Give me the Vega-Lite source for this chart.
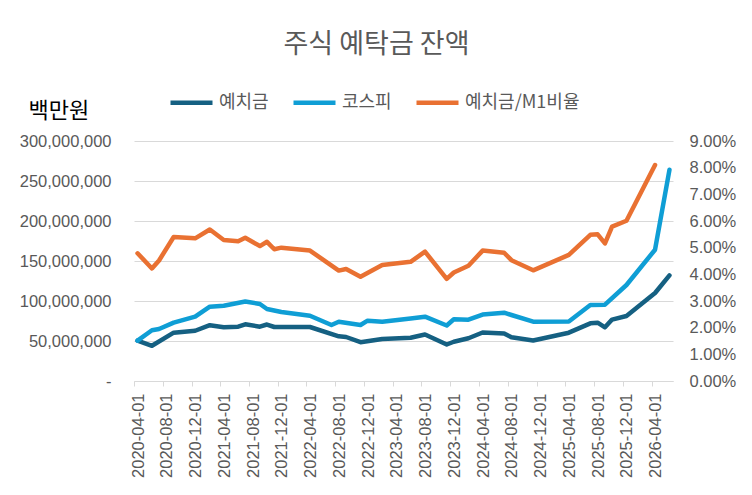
{
  "$schema": "https://vega.github.io/schema/vega-lite/v6.json",
  "background": "#ffffff",
  "autosize": {"type": "none"},
  "padding": {"left": 134, "top": 141, "right": 79, "bottom": 114},
  "width": 539,
  "height": 240,
  "title": {
    "text": "주식 예탁금 잔액",
    "font": "Noto Sans CJK KR",
    "fontSize": 27,
    "fontWeight": "normal",
    "color": "#595959",
    "anchor": "middle",
    "frame": "group",
    "dx": -27,
    "offset": 20
  },
  "config": {
    "view": {"stroke": null},
    "axis": {
      "labelFont": "Liberation Sans",
      "labelFontSize": 16.5,
      "labelColor": "#595959",
      "gridColor": "#d9d9d9",
      "domainColor": "#d9d9d9",
      "tickColor": "#d9d9d9"
    },
    "legend": {
      "labelFont": "Noto Sans CJK KR",
      "labelFontSize": 18,
      "labelColor": "#595959"
    }
  },
  "data": {
    "values": [
      {"date": "2020-04-16", "series": "예치금", "value": 50400000},
      {"date": "2020-06-16", "series": "예치금", "value": 44000000},
      {"date": "2020-09-16", "series": "예치금", "value": 60400000},
      {"date": "2020-12-16", "series": "예치금", "value": 62800000},
      {"date": "2021-02-16", "series": "예치금", "value": 69800000},
      {"date": "2021-04-16", "series": "예치금", "value": 67100000},
      {"date": "2021-06-16", "series": "예치금", "value": 67900000},
      {"date": "2021-07-16", "series": "예치금", "value": 70900000},
      {"date": "2021-09-16", "series": "예치금", "value": 67900000},
      {"date": "2021-10-16", "series": "예치금", "value": 70600000},
      {"date": "2021-11-16", "series": "예치금", "value": 67500000},
      {"date": "2022-04-16", "series": "예치금", "value": 67500000},
      {"date": "2022-08-16", "series": "예치금", "value": 55900000},
      {"date": "2022-09-16", "series": "예치금", "value": 55000000},
      {"date": "2022-11-16", "series": "예치금", "value": 48500000},
      {"date": "2023-02-16", "series": "예치금", "value": 52500000},
      {"date": "2023-06-16", "series": "예치금", "value": 54000000},
      {"date": "2023-08-16", "series": "예치금", "value": 58100000},
      {"date": "2023-11-16", "series": "예치금", "value": 45600000},
      {"date": "2023-12-16", "series": "예치금", "value": 49100000},
      {"date": "2024-02-16", "series": "예치금", "value": 53400000},
      {"date": "2024-04-16", "series": "예치금", "value": 60600000},
      {"date": "2024-07-16", "series": "예치금", "value": 59400000},
      {"date": "2024-08-16", "series": "예치금", "value": 54600000},
      {"date": "2024-11-16", "series": "예치금", "value": 50600000},
      {"date": "2025-04-16", "series": "예치금", "value": 60400000},
      {"date": "2025-07-16", "series": "예치금", "value": 72100000},
      {"date": "2025-08-16", "series": "예치금", "value": 72900000},
      {"date": "2025-09-16", "series": "예치금", "value": 67100000},
      {"date": "2025-10-16", "series": "예치금", "value": 76800000},
      {"date": "2025-12-16", "series": "예치금", "value": 81300000},
      {"date": "2026-04-16", "series": "예치금", "value": 110000000},
      {"date": "2026-06-16", "series": "예치금", "value": 132000000},
      {"date": "2020-04-16", "series": "코스피", "value": 50400000},
      {"date": "2020-06-16", "series": "코스피", "value": 63400000},
      {"date": "2020-07-16", "series": "코스피", "value": 65000000},
      {"date": "2020-09-16", "series": "코스피", "value": 72900000},
      {"date": "2020-12-16", "series": "코스피", "value": 80400000},
      {"date": "2021-02-16", "series": "코스피", "value": 92900000},
      {"date": "2021-04-16", "series": "코스피", "value": 94100000},
      {"date": "2021-07-16", "series": "코스피", "value": 99400000},
      {"date": "2021-09-16", "series": "코스피", "value": 96300000},
      {"date": "2021-10-16", "series": "코스피", "value": 90000000},
      {"date": "2021-12-16", "series": "코스피", "value": 86300000},
      {"date": "2022-04-16", "series": "코스피", "value": 81600000},
      {"date": "2022-07-16", "series": "코스피", "value": 70000000},
      {"date": "2022-08-16", "series": "코스피", "value": 74100000},
      {"date": "2022-11-16", "series": "코스피", "value": 70000000},
      {"date": "2022-12-16", "series": "코스피", "value": 75400000},
      {"date": "2023-02-16", "series": "코스피", "value": 74100000},
      {"date": "2023-06-16", "series": "코스피", "value": 78100000},
      {"date": "2023-08-16", "series": "코스피", "value": 80400000},
      {"date": "2023-11-16", "series": "코스피", "value": 69400000},
      {"date": "2023-12-16", "series": "코스피", "value": 77100000},
      {"date": "2024-02-16", "series": "코스피", "value": 76600000},
      {"date": "2024-04-16", "series": "코스피", "value": 83100000},
      {"date": "2024-07-16", "series": "코스피", "value": 85400000},
      {"date": "2024-08-16", "series": "코스피", "value": 82500000},
      {"date": "2024-11-16", "series": "코스피", "value": 74100000},
      {"date": "2025-04-16", "series": "코스피", "value": 74400000},
      {"date": "2025-07-16", "series": "코스피", "value": 95000000},
      {"date": "2025-09-16", "series": "코스피", "value": 95400000},
      {"date": "2025-12-16", "series": "코스피", "value": 120000000},
      {"date": "2026-04-16", "series": "코스피", "value": 164100000},
      {"date": "2026-06-16", "series": "코스피", "value": 264000000},
      {"date": "2020-04-16", "series": "예치금/M1비율", "value": 0.0479},
      {"date": "2020-06-16", "series": "예치금/M1비율", "value": 0.0422},
      {"date": "2020-07-16", "series": "예치금/M1비율", "value": 0.0452},
      {"date": "2020-09-16", "series": "예치금/M1비율", "value": 0.054},
      {"date": "2020-12-16", "series": "예치금/M1비율", "value": 0.0535},
      {"date": "2021-02-16", "series": "예치금/M1비율", "value": 0.0568},
      {"date": "2021-04-16", "series": "예치금/M1비율", "value": 0.0529},
      {"date": "2021-06-16", "series": "예치금/M1비율", "value": 0.0524},
      {"date": "2021-07-16", "series": "예치금/M1비율", "value": 0.0537},
      {"date": "2021-09-16", "series": "예치금/M1비율", "value": 0.0506},
      {"date": "2021-10-16", "series": "예치금/M1비율", "value": 0.0522},
      {"date": "2021-11-16", "series": "예치금/M1비율", "value": 0.0494},
      {"date": "2021-12-16", "series": "예치금/M1비율", "value": 0.05},
      {"date": "2022-04-16", "series": "예치금/M1비율", "value": 0.0489},
      {"date": "2022-08-16", "series": "예치금/M1비율", "value": 0.0414},
      {"date": "2022-09-16", "series": "예치금/M1비율", "value": 0.042},
      {"date": "2022-11-16", "series": "예치금/M1비율", "value": 0.0391},
      {"date": "2023-02-16", "series": "예치금/M1비율", "value": 0.0435},
      {"date": "2023-06-16", "series": "예치금/M1비율", "value": 0.0447},
      {"date": "2023-08-16", "series": "예치금/M1비율", "value": 0.0485},
      {"date": "2023-11-16", "series": "예치금/M1비율", "value": 0.0383},
      {"date": "2023-12-16", "series": "예치금/M1비율", "value": 0.0407},
      {"date": "2024-02-16", "series": "예치금/M1비율", "value": 0.0432},
      {"date": "2024-04-16", "series": "예치금/M1비율", "value": 0.0489},
      {"date": "2024-07-16", "series": "예치금/M1비율", "value": 0.0481},
      {"date": "2024-08-16", "series": "예치금/M1비율", "value": 0.0453},
      {"date": "2024-11-16", "series": "예치금/M1비율", "value": 0.0415},
      {"date": "2025-04-16", "series": "예치금/M1비율", "value": 0.0473},
      {"date": "2025-07-16", "series": "예치금/M1비율", "value": 0.0548},
      {"date": "2025-08-16", "series": "예치금/M1비율", "value": 0.055},
      {"date": "2025-09-16", "series": "예치금/M1비율", "value": 0.0516},
      {"date": "2025-10-16", "series": "예치금/M1비율", "value": 0.0579},
      {"date": "2025-12-16", "series": "예치금/M1비율", "value": 0.0601},
      {"date": "2026-04-16", "series": "예치금/M1비율", "value": 0.081}
    ]
  },
  "encoding": {
    "x": {
      "field": "date",
      "type": "temporal",
      "title": null,
      "scale": {
        "type": "utc",
        "domain": [
          {"year": 2020, "month": 4, "date": 1, "utc": true},
          {"year": 2026, "month": 7, "date": 1, "utc": true}
        ]
      },
      "axis": {
        "values": [
          {"year": 2020, "month": 4, "date": 1, "utc": true},
          {"year": 2020, "month": 8, "date": 1, "utc": true},
          {"year": 2020, "month": 12, "date": 1, "utc": true},
          {"year": 2021, "month": 4, "date": 1, "utc": true},
          {"year": 2021, "month": 8, "date": 1, "utc": true},
          {"year": 2021, "month": 12, "date": 1, "utc": true},
          {"year": 2022, "month": 4, "date": 1, "utc": true},
          {"year": 2022, "month": 8, "date": 1, "utc": true},
          {"year": 2022, "month": 12, "date": 1, "utc": true},
          {"year": 2023, "month": 4, "date": 1, "utc": true},
          {"year": 2023, "month": 8, "date": 1, "utc": true},
          {"year": 2023, "month": 12, "date": 1, "utc": true},
          {"year": 2024, "month": 4, "date": 1, "utc": true},
          {"year": 2024, "month": 8, "date": 1, "utc": true},
          {"year": 2024, "month": 12, "date": 1, "utc": true},
          {"year": 2025, "month": 4, "date": 1, "utc": true},
          {"year": 2025, "month": 8, "date": 1, "utc": true},
          {"year": 2025, "month": 12, "date": 1, "utc": true},
          {"year": 2026, "month": 4, "date": 1, "utc": true}
        ],
        "labelExpr": "utcFormat(datum.value, '%Y-%m-%d')",
        "labelAngle": -90,
        "labelOffset": 4,
        "labelPadding": 7,
        "tickSize": 5,
        "grid": false,
        "labelOverlap": false
      }
    },
    "color": {
      "field": "series",
      "type": "nominal",
      "scale": {
        "domain": ["예치금", "코스피", "예치금/M1비율"],
        "range": ["#156082", "#0F9ED5", "#E97132"]
      },
      "legend": {
        "title": null,
        "orient": "none",
        "direction": "horizontal",
        "legendX": 34,
        "legendY": -62,
        "symbolType": "stroke",
        "symbolSize": 1764,
        "symbolStrokeWidth": 4.5,
        "labelOffset": 4,
        "columnPadding": 15
      }
    }
  },
  "layer": [
    {
      "transform": [{"filter": "datum.series != '예치금/M1비율'"}],
      "mark": {"type": "line", "strokeWidth": 4.5, "strokeCap": "round", "strokeJoin": "round"},
      "encoding": {
        "y": {
          "field": "value",
          "type": "quantitative",
          "scale": {"domain": [0, 300000000], "nice": false},
          "axis": {
            "values": [0, 50000000, 100000000, 150000000, 200000000, 250000000, 300000000],
            "labelExpr": "datum.value == 0 ? '-' : format(datum.value, ',')",
            "ticks": false,
            "domain": false,
            "labelPadding": 23,
            "title": "백만원",
            "titleAngle": 0,
            "titleAlign": "left",
            "titleBaseline": "alphabetic",
            "titleX": -106,
            "titleY": -24,
            "titleFont": "Noto Sans CJK KR",
            "titleFontSize": 22,
            "titleFontWeight": "normal",
            "titleColor": "#000000"
          }
        }
      }
    },
    {
      "transform": [{"filter": "datum.series == '예치금/M1비율'"}],
      "mark": {"type": "line", "strokeWidth": 4.5, "strokeCap": "round", "strokeJoin": "round"},
      "encoding": {
        "y": {
          "field": "value",
          "type": "quantitative",
          "scale": {"domain": [0, 0.09], "nice": false},
          "axis": {
            "orient": "right",
            "values": [0, 0.01, 0.02, 0.03, 0.04, 0.05, 0.06, 0.07, 0.08, 0.09],
            "format": ".2%",
            "ticks": false,
            "domain": false,
            "grid": false,
            "labelPadding": 16,
            "title": null
          }
        }
      }
    }
  ],
  "resolve": {"scale": {"y": "independent"}}
}
